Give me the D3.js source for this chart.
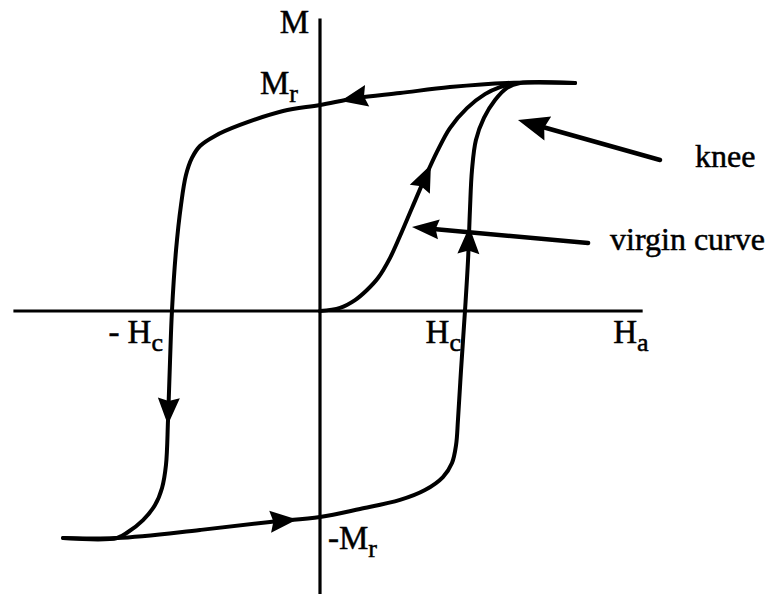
<!DOCTYPE html>
<html>
<head>
<meta charset="utf-8">
<script src="https://cdn.jsdelivr.net/npm/d3@7"></script>
<style>
  body { margin: 0; background: #fff; }
  svg { display: block; }
  text { font-family: "Liberation Serif", "Times New Roman", serif; fill: #000; stroke: #000; stroke-width: 0.5; }
</style>
</head>
<body>
<div id="chart"></div>
<script>
// Hysteresis loop, in units of Hc (horizontal) and Mr (vertical)
const axisH = [-2.10, 2.21];
const axisM = [-1.40, 1.42];

// descending branch, from positive saturation to negative saturation
const upperBranch = [
  [1.747, 1.107], [1.281, 1.107], [0.890, 1.087], [0.548, 1.058], [0.253, 1.034],
  [0, 1.0], [-0.253, 0.971], [-0.548, 0.903], [-0.719, 0.850], [-0.822, 0.801],
  [-0.877, 0.743], [-0.918, 0.660], [-0.952, 0.515], [-0.986, 0.296], [-1.014, 0],
  [-1.027, -0.238], [-1.041, -0.529], [-1.055, -0.748], [-1.082, -0.859],
  [-1.130, -0.942], [-1.212, -1.015], [-1.315, -1.073], [-1.390, -1.102], [-1.760, -1.102]
];

// ascending branch, from negative saturation back to positive saturation
const lowerBranch = [
  [-1.760, -1.102], [-1.390, -1.102], [-0.822, -1.063], [-0.342, -1.024], [0, -1.0],
  [0.274, -0.961], [0.548, -0.917], [0.719, -0.869], [0.842, -0.806], [0.904, -0.738],
  [0.932, -0.650], [0.945, -0.529], [0.966, -0.286], [0.993, 0], [1.014, 0.248],
  [1.027, 0.490], [1.041, 0.684], [1.068, 0.830], [1.123, 0.937], [1.199, 1.024],
  [1.281, 1.083], [1.370, 1.107], [1.747, 1.107]
];

// initial magnetisation curve
const virginCurve = [
  [0, 0], [0.137, 0.015], [0.240, 0.053], [0.322, 0.102], [0.397, 0.160],
  [0.479, 0.257], [0.548, 0.364], [0.630, 0.500], [0.719, 0.646], [0.801, 0.772],
  [0.890, 0.888], [1.007, 0.985], [1.130, 1.053], [1.233, 1.087], [1.315, 1.102]
];

// direction arrows: which curve, and where the tip sits
const flowArrows = [
  { curve: "upper", at: [0.137, 1.034] },
  { curve: "upper", at: [-1.048, -0.553] },
  { curve: "lower", at: [-0.158, -1.005] },
  { curve: "lower", at: [1.027, 0.408] },
  { curve: "virgin", at: [0.740, 0.718] }
];

// annotation pointers
const pointers = [
  { label: "knee", from: [2.329, 0.733], to: [1.356, 0.927] },
  { label: "virgin curve", from: [1.836, 0.330], to: [0.630, 0.408] }
];

const W = 776, H = 594;
const svg = d3.select("#chart").append("svg").attr("width", W).attr("height", H);

const x = d3.scaleLinear().domain([-1, 1]).range([174, 466]);
const y = d3.scaleLinear().domain([-1, 1]).range([517, 105]);

// axes
svg.append("line")
  .attr("x1", x(axisH[0])).attr("x2", x(axisH[1]))
  .attr("y1", y(0)).attr("y2", y(0))
  .attr("stroke", "#000").attr("stroke-width", 3.2);
svg.append("line")
  .attr("x1", x(0)).attr("x2", x(0))
  .attr("y1", y(axisM[1])).attr("y2", y(axisM[0]))
  .attr("stroke", "#000").attr("stroke-width", 3.2);

// curves
const line = d3.line()
  .x(d => x(d[0])).y(d => y(d[1]))
  .curve(d3.curveCatmullRom.alpha(0.5));

const curves = { upper: upperBranch, lower: lowerBranch, virgin: virginCurve };
const paths = {};
Object.entries(curves).forEach(([key, pts]) => {
  paths[key] = svg.append("path")
    .attr("d", line(pts))
    .attr("fill", "none")
    .attr("stroke", "#000")
    .attr("stroke-width", 4)
    .attr("stroke-linejoin", "round")
    .attr("stroke-linecap", "round");
});

function arrowHead(tip, angle, len, wid) {
  const c = Math.cos(angle), s = Math.sin(angle);
  const bx = tip[0] - c * len, by = tip[1] - s * len;
  const nx = -s * wid / 2, ny = c * wid / 2;
  const notch = len * 0.12;
  const mx = bx + c * notch, my = by + s * notch;
  return [tip, [bx + nx, by + ny], [mx, my], [bx - nx, by - ny]];
}

// arrows along the loop, oriented with the curve
flowArrows.forEach(a => {
  const node = paths[a.curve].node();
  const total = node.getTotalLength();
  const tx = x(a.at[0]), ty = y(a.at[1]);
  let best = 0, bestD = Infinity;
  for (let l = 0; l <= total; l += 0.5) {
    const p = node.getPointAtLength(l);
    const dd = (p.x - tx) ** 2 + (p.y - ty) ** 2;
    if (dd < bestD) { bestD = dd; best = l; }
  }
  const p0 = node.getPointAtLength(Math.max(0, best - 8));
  const p1 = node.getPointAtLength(best);
  const ang = Math.atan2(p1.y - p0.y, p1.x - p0.x);
  svg.append("polygon")
    .attr("points", arrowHead([p1.x, p1.y], ang, 27, 22).map(p => p.join(",")).join(" "))
    .attr("fill", "#000");
});

// annotation pointers and their labels
pointers.forEach((p, i) => {
  const fx = x(p.from[0]), fy = y(p.from[1]);
  const tx = x(p.to[0]), ty = y(p.to[1]);
  const ang = Math.atan2(ty - fy, tx - fx);
  const len = i === 0 ? 31 : 27, wid = i === 0 ? 25 : 20;
  svg.append("line")
    .attr("x1", fx).attr("y1", fy)
    .attr("x2", tx - Math.cos(ang) * len * 0.8).attr("y2", ty - Math.sin(ang) * len * 0.8)
    .attr("stroke", "#000").attr("stroke-width", 4.5).attr("stroke-linecap", "round");
  svg.append("polygon")
    .attr("points", arrowHead([tx, ty], ang, len, wid).map(q => q.join(",")).join(" "))
    .attr("fill", "#000");
  svg.append("text")
    .attr("x", fx + (i === 0 ? 35 : 22))
    .attr("y", fy + 7)
    .attr("font-size", 32)
    .text(p.label);
});

// axis labels with subscripts
function subLabel(px, py, anchor, main, sub) {
  const t = svg.append("text")
    .attr("x", px).attr("y", py)
    .attr("text-anchor", anchor)
    .attr("font-size", 33);
  t.append("tspan").text(main);
  if (sub) t.append("tspan").attr("dy", 8).attr("font-size", 26).text(sub);
  return t;
}

subLabel(x(0) - 11, y(axisM[1]) + 15, "end", "M");
subLabel(x(0) - 22, y(1) - 11, "end", "M", "r");
subLabel(x(0) + 8, y(-1) + 32, "start", "-M", "r");
subLabel(x(-1) - 11, y(0) + 32, "end", "- H", "c");
subLabel(x(1) - 5, y(0) + 32, "end", "H", "c");
subLabel(x(axisH[1]) + 6, y(0) + 32, "end", "H", "a");
</script>
</body>
</html>
